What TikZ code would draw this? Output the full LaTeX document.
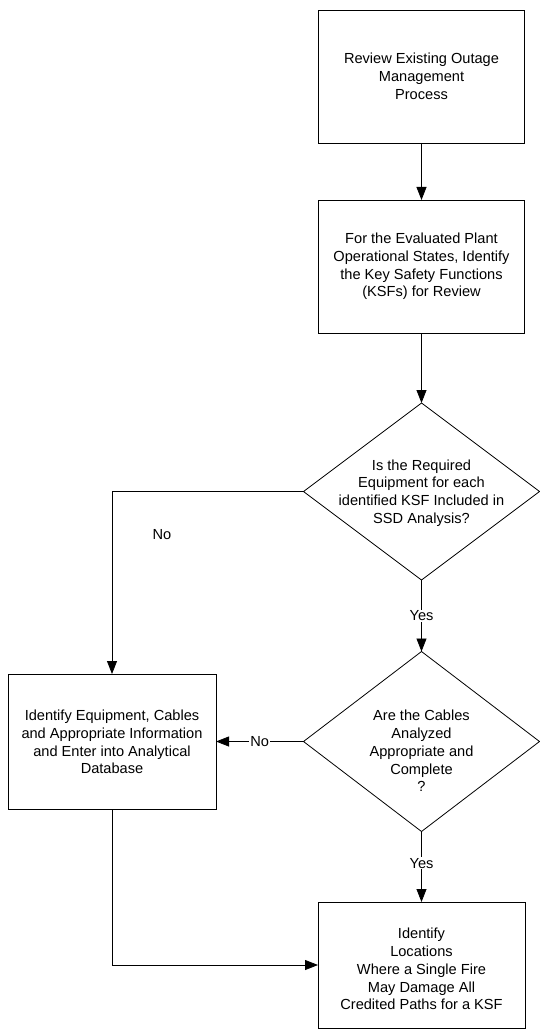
\documentclass[tikz,border=0pt]{standalone}
\usepackage{fontspec}
\setmainfont{Liberation Sans}
\usetikzlibrary{shapes.geometric,arrows.meta}
\begin{document}
\begin{tikzpicture}[x=1pt,y=-1pt,
  every node/.style={font=\fontsize{14.6}{17.8}\selectfont},
  box/.style={draw,line width=0.8pt,rectangle,outer sep=0pt,inner sep=0pt},
  dia/.style={draw,line width=0.8pt,diamond,outer sep=0pt,inner sep=0pt},
  txt/.style={align=center,inner sep=0pt},
  lbl/.style={fill=white,inner sep=1pt},
  conn/.style={line width=0.8pt,-{Triangle[length=13pt,width=10pt]}}]
\useasboundingbox (0,0) rectangle (540,1032);
\node[box,minimum width=206,minimum height=133] (b1) at (421.5,76.5) {};
\node[txt] (t1) at (421.5,76.5) {Review Existing Outage\\Management\\Process};
\node[box,minimum width=206,minimum height=133] (b2) at (421.5,266.5) {};
\node[txt] (t2) at (421.5,266.5) {For the Evaluated Plant\\Operational States, Identify\\the Key Safety Functions\\(KSFs) for Review};
\node[dia,minimum width=236,minimum height=177] (d1) at (421.5,491.5) {};
\node[txt] (t3) at (421.5,493) {Is the Required\\Equipment for each\\identified KSF Included in\\SSD Analysis?};
\node[dia,minimum width=236,minimum height=180] (d2) at (421.5,741.5) {};
\node[txt] (t4) at (421.5,751) {Are the Cables\\Analyzed\\Appropriate and\\Complete\\?};
\node[box,minimum width=208,minimum height=135] (b3) at (112,741.5) {};
\node[txt] (t5) at (112,742) {Identify Equipment, Cables\\and Appropriate Information\\and Enter into Analytical\\Database};
\node[box,minimum width=207,minimum height=126] (b4) at (421.5,965) {};
\node[txt] (t6) at (421.5,969) {Identify\\Locations\\Where a Single Fire\\May Damage All\\Credited Paths for a KSF};
\draw[conn] (b1.south) -- (b2.north);
\draw[conn] (b2.south) -- (d1.north);
\draw[conn] (d1.west) -| (b3.north);
\node[inner sep=0pt] (no1) at (162,535) {No};
\draw[conn] (d1.south) -- node[lbl] (yes1) {Yes} (d2.north);
\draw[conn] (d2.west) -- node[lbl,pos=0.5] (no2) {No} (b3.east);
\draw[conn] (d2.south) -- node[lbl,pos=0.45] (yes2) {Yes} (b4.north);
\draw[conn] (b3.south) |- (b4.west);
\end{tikzpicture}
\end{document}
